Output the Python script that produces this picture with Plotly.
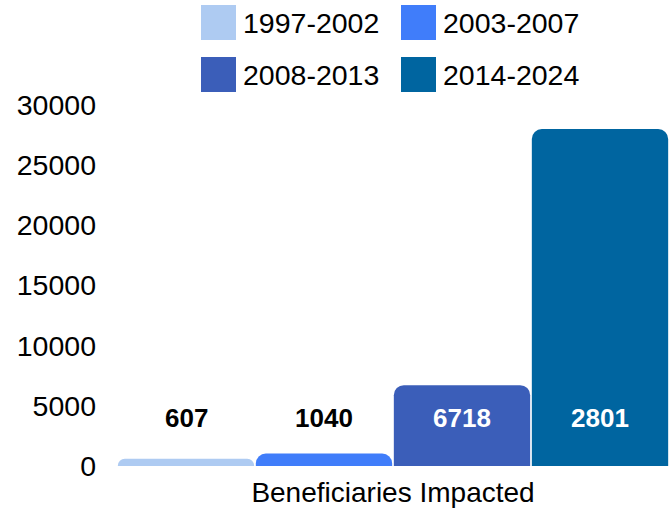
import plotly.graph_objects as go

category = ["Beneficiaries Impacted"]
periods = ["1997-2002", "2003-2007", "2008-2013", "2014-2024"]
values = [607, 1040, 6718, 28010]
value_labels = ["607", "1040", "6718", "2801"]
colors = ["#AECBF2", "#407DFA", "#3B5EB9", "#0065A0"]
label_colors = ["black", "black", "white", "white"]
y_ticks = [0, 5000, 10000, 15000, 20000, 25000, 30000]
label_y = 4000

W, H = 669, 513
L, R, T, B = 117, 0, 105, 47
PW, PH = W - L - R, H - T - B


def px_x(p):
    return (p - L) / PW


def px_y(p):
    return (H - B - p) / PH


fig = go.Figure()
for name, v, c in zip(periods, values, colors):
    fig.add_trace(go.Bar(x=category, y=[v], name=name, marker_color=c,
                         marker_line_width=0, showlegend=False, hoverinfo="skip"))

n = len(periods)
for i, (lab, lc) in enumerate(zip(value_labels, label_colors)):
    fig.add_annotation(x=-0.5 + (i + 0.5) / n, y=label_y, xref="x", yref="y",
                       text=lab, showarrow=False,
                       font=dict(family="Liberation Sans", size=26, color=lc, weight="bold"),
                       xanchor="center", yanchor="middle")

# manual legend (2 x 2)
leg_cols = [201, 401]
leg_rows = [5, 57]
for i, (name, c) in enumerate(zip(periods, colors)):
    col, row = i % 2, i // 2
    x0 = leg_cols[col]
    y0 = leg_rows[row]
    fig.add_shape(type="rect", xref="paper", yref="paper",
                  x0=px_x(x0), x1=px_x(x0 + 35), y0=px_y(y0 + 35), y1=px_y(y0),
                  fillcolor=c, line_width=0)
    fig.add_annotation(xref="paper", yref="paper", x=px_x(x0 + 40), y=px_y(y0 + 18),
                       text=name, showarrow=False, xanchor="left", yanchor="middle",
                       font=dict(family="Liberation Sans", size=28.5, color="black"))

fig.update_layout(
    width=W, height=H,
    margin=dict(l=L, r=R, t=T, b=B, pad=0),
    barmode="group", bargap=0, bargroupgap=0.012,
    barcornerradius=10,
    plot_bgcolor="white", paper_bgcolor="white",
    font=dict(family="Liberation Sans", size=28, color="black"),
    showlegend=False,
    hovermode=False,
)
fig.update_xaxes(showgrid=False, showline=False, zeroline=False, ticks="",
                 ticklabelstandoff=7,
                 tickfont=dict(size=28, color="black"))
fig.update_yaxes(range=[0, 30000], tickvals=y_ticks, ticktext=[str(t) for t in y_ticks],
                 showgrid=False, zeroline=False,
                 showline=False, ticks="", ticklabelstandoff=20,
                 tickfont=dict(size=28.5, color="black"))

fig.write_html("out.html", config={"displayModeBar": False, "staticPlot": True},
               post_script="document.body.style.margin='0px';document.body.style.overflow='hidden';")
